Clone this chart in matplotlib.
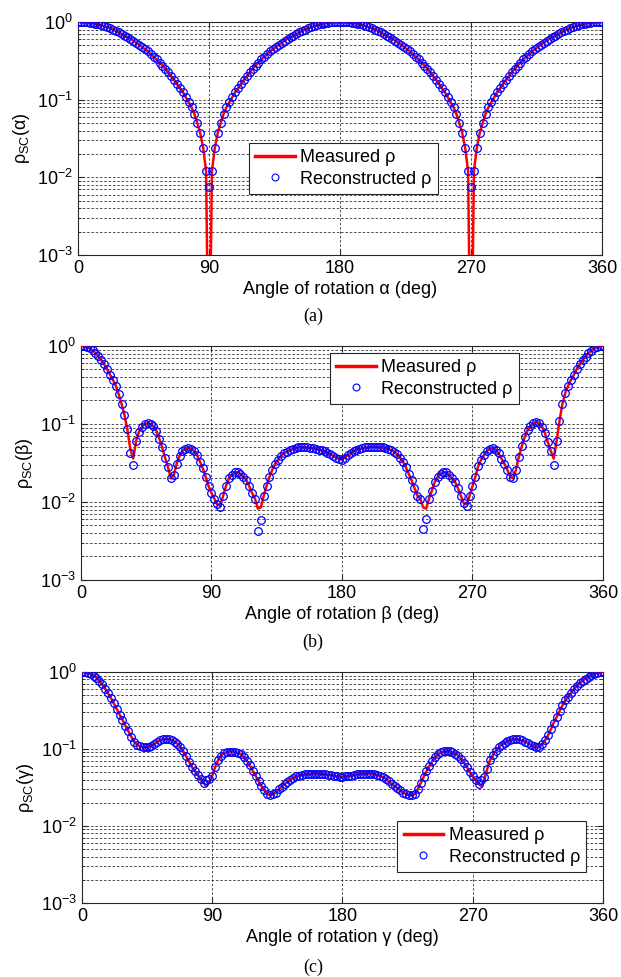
import numpy as np
import matplotlib.pyplot as plt
from matplotlib.lines import Line2D
from matplotlib.ticker import LogLocator, NullFormatter

plt.rcParams['font.family'] = ['Liberation Sans', 'DejaVu Sans']
plt.rcParams['mathtext.fontset'] = 'custom'
plt.rcParams['mathtext.rm'] = 'Liberation Sans'
plt.rcParams['mathtext.it'] = 'Liberation Sans'
plt.rcParams['mathtext.bf'] = 'Liberation Sans:bold'
plt.rcParams['lines.scale_dashes'] = False

# sample angles (deg), one every 2 deg
angle = np.arange(0, 361, 2)
xticks = [0, 90, 180, 270, 360]

# ---- (a) rotation alpha, measured rho (rows of 20 deg)
meas_a = [1.00, 1.00, 1.00, 0.99, 0.98, 0.965, 0.95, 0.93, 0.91, 0.88,
          0.855, 0.83, 0.80, 0.77, 0.735, 0.70, 0.665, 0.635, 0.61, 0.575,
          0.54, 0.51, 0.475, 0.445, 0.42, 0.385, 0.355, 0.33, 0.30, 0.275,
          0.25, 0.225, 0.20, 0.18, 0.16, 0.14, 0.125, 0.108, 0.093, 0.08,
          0.065, 0.050, 0.037, 0.024, 0.012, 1e-5, 0.012, 0.024, 0.037, 0.050,
          0.065, 0.08, 0.093, 0.108, 0.125, 0.14, 0.16, 0.18, 0.20, 0.225,
          0.25, 0.275, 0.30, 0.33, 0.355, 0.385, 0.42, 0.445, 0.475, 0.51,
          0.54, 0.575, 0.61, 0.635, 0.665, 0.70, 0.735, 0.77, 0.80, 0.83,
          0.855, 0.88, 0.91, 0.93, 0.95, 0.965, 0.98, 0.99, 1.00, 1.00,
          1.00, 1.00, 1.00, 0.99, 0.98, 0.965, 0.95, 0.93, 0.91, 0.88,
          0.855, 0.83, 0.80, 0.77, 0.735, 0.70, 0.665, 0.635, 0.61, 0.575,
          0.54, 0.51, 0.475, 0.445, 0.42, 0.385, 0.355, 0.33, 0.30, 0.275,
          0.25, 0.225, 0.20, 0.18, 0.16, 0.14, 0.125, 0.108, 0.093, 0.08,
          0.065, 0.050, 0.037, 0.024, 0.012, 1e-5, 0.012, 0.024, 0.037, 0.050,
          0.065, 0.08, 0.093, 0.108, 0.125, 0.14, 0.16, 0.18, 0.20, 0.225,
          0.25, 0.275, 0.30, 0.33, 0.355, 0.385, 0.42, 0.445, 0.475, 0.51,
          0.54, 0.575, 0.61, 0.635, 0.665, 0.70, 0.735, 0.77, 0.80, 0.83,
          0.855, 0.88, 0.91, 0.93, 0.95, 0.965, 0.98, 0.99, 1.00, 1.00,
          1.00]
# reconstructed rho differs from measured only at these angles
rec_a_diff = {90: 0.0075, 270: 0.0075}

# ---- (b) rotation beta
meas_b = [1.00, 0.99, 0.97, 0.93, 0.88, 0.81, 0.74, 0.66, 0.58, 0.50,
          0.43, 0.37, 0.31, 0.24, 0.18, 0.13, 0.085, 0.048, 0.036, 0.060,
          0.080, 0.092, 0.100, 0.103, 0.100, 0.094, 0.082, 0.065, 0.050, 0.037,
          0.028, 0.020, 0.022, 0.031, 0.039, 0.045, 0.048, 0.049, 0.048, 0.045,
          0.040, 0.033, 0.027, 0.021, 0.016, 0.013, 0.011, 0.0093, 0.0089, 0.012,
          0.016, 0.020, 0.022, 0.024, 0.024, 0.023, 0.021, 0.019, 0.016, 0.013,
          0.011, 0.0082, 0.0085, 0.012, 0.016, 0.021, 0.026, 0.031, 0.035, 0.039,
          0.042, 0.044, 0.046, 0.048, 0.049, 0.050, 0.050, 0.050, 0.050, 0.049,
          0.049, 0.048, 0.047, 0.046, 0.045, 0.043, 0.041, 0.039, 0.037, 0.036,
          0.035, 0.037, 0.040, 0.042, 0.045, 0.047, 0.048, 0.049, 0.050, 0.050,
          0.051, 0.051, 0.051, 0.050, 0.050, 0.049, 0.048, 0.046, 0.044, 0.041,
          0.037, 0.033, 0.028, 0.023, 0.019, 0.015, 0.012, 0.011, 0.0085, 0.0082,
          0.011, 0.014, 0.018, 0.021, 0.023, 0.024, 0.024, 0.022, 0.020, 0.018,
          0.015, 0.012, 0.0096, 0.0093, 0.012, 0.016, 0.021, 0.029, 0.035, 0.040,
          0.045, 0.048, 0.049, 0.047, 0.042, 0.036, 0.031, 0.026, 0.021, 0.020,
          0.026, 0.038, 0.052, 0.068, 0.083, 0.094, 0.102, 0.107, 0.103, 0.092,
          0.076, 0.058, 0.045, 0.036, 0.060, 0.11, 0.18, 0.25, 0.31, 0.37,
          0.43, 0.51, 0.58, 0.66, 0.73, 0.81, 0.87, 0.93, 0.97, 0.99,
          1.00]
rec_b_diff = {34: 0.042, 36: 0.030, 96: 0.0085, 122: 0.0042, 124: 0.0058,
              236: 0.0045, 238: 0.0060, 266: 0.0088, 326: 0.030}

# ---- (c) rotation gamma
meas_c = [1.00, 0.99, 0.97, 0.94, 0.90, 0.84, 0.77, 0.69, 0.61, 0.53,
          0.46, 0.39, 0.33, 0.28, 0.24, 0.20, 0.17, 0.145, 0.125, 0.114,
          0.108, 0.105, 0.105, 0.107, 0.110, 0.116, 0.123, 0.130, 0.134, 0.136,
          0.135, 0.131, 0.124, 0.117, 0.106, 0.093, 0.080, 0.068, 0.058, 0.052,
          0.046, 0.041, 0.036, 0.033, 0.037, 0.045, 0.058, 0.071, 0.082, 0.088,
          0.091, 0.092, 0.092, 0.090, 0.089, 0.085, 0.078, 0.070, 0.061, 0.052,
          0.045, 0.038, 0.033, 0.029, 0.026, 0.025, 0.026, 0.027, 0.030, 0.032,
          0.035, 0.037, 0.040, 0.042, 0.044, 0.045, 0.046, 0.047, 0.047, 0.047,
          0.047, 0.047, 0.047, 0.047, 0.047, 0.046, 0.046, 0.045, 0.044, 0.043,
          0.043, 0.044, 0.045, 0.045, 0.046, 0.047, 0.047, 0.048, 0.048, 0.048,
          0.047, 0.047, 0.046, 0.045, 0.043, 0.041, 0.038, 0.035, 0.033, 0.031,
          0.029, 0.027, 0.026, 0.025, 0.025, 0.026, 0.030, 0.036, 0.043, 0.051,
          0.060, 0.069, 0.078, 0.085, 0.090, 0.093, 0.094, 0.093, 0.090, 0.087,
          0.081, 0.074, 0.066, 0.058, 0.050, 0.044, 0.039, 0.035, 0.033, 0.040,
          0.055, 0.072, 0.084, 0.095, 0.105, 0.113, 0.120, 0.127, 0.132, 0.135,
          0.135, 0.133, 0.129, 0.125, 0.120, 0.113, 0.108, 0.105, 0.107, 0.115,
          0.130, 0.150, 0.18, 0.22, 0.26, 0.31, 0.37, 0.43, 0.48, 0.54,
          0.60, 0.66, 0.71, 0.77, 0.82, 0.87, 0.92, 0.95, 0.98, 0.99,
          1.00]
rec_c_diff = {86: 0.040, 88: 0.041, 276: 0.040, 278: 0.043}

panels = [
    ('α', meas_a, rec_a_diff, '(a)', [0.1256, 0.7390, 0.8438, 0.2385], (0.326, 0.481), 0.676),
    ('β', meas_b, rec_b_diff, '(b)', [0.1304, 0.4064, 0.8406, 0.2395], (0.477, 0.970), 0.343),
    ('γ', meas_c, rec_c_diff, '(c)', [0.1320, 0.0758, 0.8390, 0.2364], (0.605, 0.356), 0.010),
]

grid_kw = dict(color='#333333', lw=0.6, ls=(0, (1.8, 1.3)))

fig = plt.figure(figsize=(6.21, 9.77), dpi=100)

for greek, meas, diff, tag, rect, legpos, tagy in panels:
    rec = [diff.get(int(a), v) for a, v in zip(angle, meas)]
    ax = fig.add_axes(rect)
    ax.plot(angle, meas, color='red', lw=1.8, zorder=3)
    ax.plot(angle, rec, ls='none', marker='o', mfc='none', mec='blue',
            ms=5.5, mew=0.9, zorder=4)
    ax.set_yscale('log')
    ax.set_xlim(0, 360)
    ax.set_ylim(1e-3, 1)
    ax.set_xticks(xticks)
    ax.yaxis.set_major_locator(LogLocator(base=10, numticks=10))
    ax.yaxis.set_minor_locator(LogLocator(base=10, subs=np.arange(2, 10), numticks=20))
    ax.yaxis.set_minor_formatter(NullFormatter())
    ax.grid(True, which='major', axis='both', **grid_kw)
    ax.grid(True, which='minor', axis='y', **grid_kw)
    ax.set_axisbelow(True)
    ax.tick_params(which='both', direction='in', top=True, right=True,
                   labelsize=13, color='#262626')
    ax.tick_params(which='major', length=4)
    ax.tick_params(which='minor', length=2)
    for s in ax.spines.values():
        s.set_color('#262626')
        s.set_linewidth(0.8)
    ax.set_xlabel('Angle of rotation ' + greek + ' (deg)', fontsize=13, labelpad=3)
    ax.set_ylabel(r'$\rho_{SC}$(' + greek + ')', fontsize=13)

    handles = [Line2D([], [], color='red', lw=2.5),
               Line2D([], [], ls='none', marker='o', mfc='none', mec='blue', ms=5, mew=0.8)]
    leg = ax.legend(handles, ['Measured ρ', 'Reconstructed ρ'], loc='upper left',
                    bbox_to_anchor=legpos, fontsize=13, fancybox=False,
                    edgecolor='#262626', framealpha=1, handlelength=2.2,
                    handletextpad=0.3, borderpad=0.35, labelspacing=0.25,
                    borderaxespad=0)
    leg.get_frame().set_linewidth(0.8)

    fig.text(0.504, tagy, tag, family='Liberation Serif', fontsize=13,
             ha='center', va='center')

fig.savefig('out.png', dpi=100)
